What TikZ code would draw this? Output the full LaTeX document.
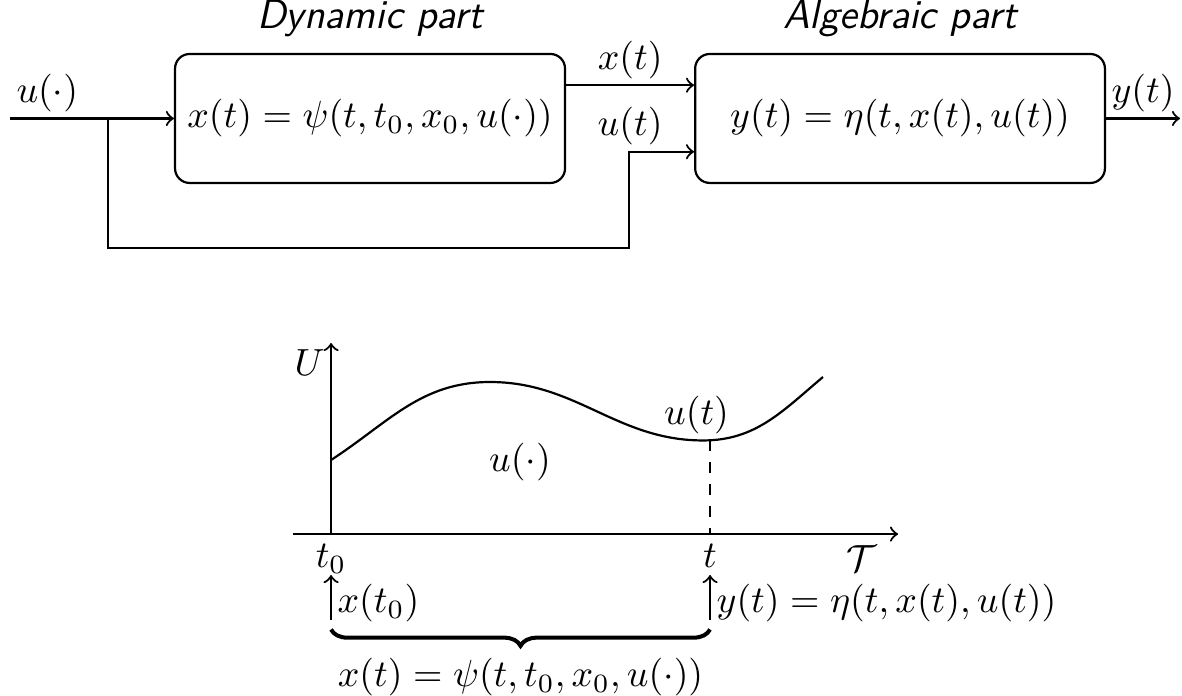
\RequirePackage{fix-cm}
\documentclass[tikz,border=0pt]{standalone}
\usepackage{amsmath,amssymb}
\usetikzlibrary{arrows.meta,positioning,calc,decorations.pathreplacing}

\begin{document}
\begin{tikzpicture}[
    >=to, semithick,
    every node/.style={font=\fontsize{10.35}{12.4}\selectfont},
    block/.style={draw, rounded corners=4pt, minimum width=3.75cm, minimum height=1.24cm, inner sep=2pt},
    parttitle/.style={font=\fontsize{11.2}{13.4}\selectfont\sffamily\itshape, inner sep=1pt},
    sig/.style={->},
    lbl/.style={inner sep=1.5pt}
  ]
  \useasboundingbox (0,0) rectangle (11.365,-6.683);
  % Block diagram
  \node[block] (dyn) at (3.558,-1.139) {$x(t)=\psi(t,t_0,x_0,u(\cdot))$};
  \node[block, minimum width=3.94cm] (alg) at (8.654,-1.139) {$y(t)=\eta(t,x(t),u(t))$};
  \node[parttitle, above=3pt of dyn] (dyntitle) {Dynamic part};
  \node[parttitle, above=3pt of alg] (algtitle) {Algebraic part};
  \coordinate (in) at (0.096,-1.139);
  \coordinate (split) at (1.038,-1.139);
  \coordinate (fb) at (6.048,-2.385);
  \coordinate (out) at (11.346,-1.139);
  \draw[sig] (in) node[lbl, anchor=south west] (ulabel) {$u(\cdot)$} -- (dyn.west);
  \draw[sig] (split) |- (fb) |- ([yshift=-3.2mm]alg.west);
  \draw[sig] ([yshift=3.2mm]dyn.east) -- node[lbl, above] (xlabel) {$x(t)$} ([yshift=3.2mm]alg.west);
  \node[lbl, above] (utlabel) at ($([yshift=-3.2mm]dyn.east)!0.5!([yshift=-3.2mm]alg.west)$) {$u(t)$};
  \draw[sig] (alg.east) -- node[lbl, above] (ylabel) {$y(t)$} (out);

  % Input signal over time
  \coordinate (O) at (3.183,-5.135);
  \coordinate (ytop) at (3.183,-3.298);
  \coordinate (xl) at (2.817,-5.135);
  \coordinate (xr) at (8.635,-5.135);
  \coordinate (ut) at (6.827,-4.232);
  \coordinate (tt) at (6.827,-5.135);
  \draw[sig] (O) -- (ytop) node[lbl, anchor=north east] (Ulabel) {$U$};
  \draw[sig] (xl) -- (xr) node[lbl, anchor=north east, xshift=-4pt, yshift=-1.5pt] (Tlabel) {$\mathcal{T}$};
  \draw (3.183,-4.423) to[out=33,in=180] (4.712,-3.673) to[out=0,in=180] (6.76,-4.235) to[out=0,in=-140] (7.913,-3.625);
  \draw[dashed] (ut) -- (tt);
  \node[lbl, above, xshift=-1.3mm] (utnode) at (ut) {$u(t)$};
  \node (udot) at (5.0,-4.442) {$u(\cdot)$};
  \node[lbl, below=1pt] (t0label) at (O) {$t_0$};
  \node[lbl, below=1pt] (tlabel) at (tt) {$t$};
  \coordinate (a0) at (3.183,-5.962);
  \coordinate (a1) at (6.827,-5.962);
  \draw[sig] (a0) -- node[lbl, right, pos=0.38] (x0label) {$x(t_0)$} (3.183,-5.529);
  \draw[sig] (a1) -- node[lbl, right, pos=0.38] (ytlabel) {$y(t)=\eta(t,x(t),u(t))$} (6.827,-5.529);
  \draw[decorate, decoration={brace, mirror, amplitude=4.5pt}, line width=1.1pt]
    ([yshift=-0.9mm]a0) -- node[below=4pt] (xtlabel) {$x(t)=\psi(t,t_0,x_0,u(\cdot))$} ([yshift=-0.9mm]a1);
\end{tikzpicture}
\end{document}
